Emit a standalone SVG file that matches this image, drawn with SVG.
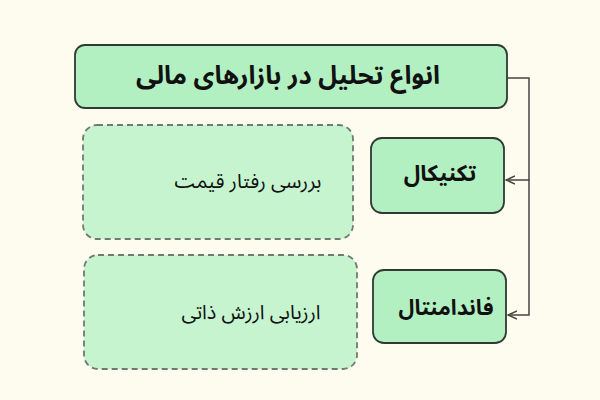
<svg xmlns="http://www.w3.org/2000/svg" width="600" height="400" viewBox="0 0 600 400">
<style>
.main{fill:#b2f0c2;stroke:#2f3a33;stroke-width:1.8}
.sub{fill:#c6f4cf;stroke:#707a72;stroke-width:1.8;stroke-dasharray:6 4}
.t{font-family:"Noto Sans Arabic","Noto Naskh Arabic","DejaVu Sans",sans-serif;fill:#111;text-anchor:middle;dominant-baseline:central;direction:rtl}
.b{font-weight:bold}
.conn{fill:none;stroke:#444;stroke-width:1.5}
</style>
<defs>
<marker id="ah" viewBox="0 0 10 10" refX="9" refY="5" markerWidth="10" markerHeight="10" markerUnits="userSpaceOnUse" orient="auto">
<path d="M0,1 L9,5 L0,9" fill="none" stroke="#444" stroke-width="1.4"/>
</marker>
</defs>
<rect width="600" height="400" fill="#fdfcee"/>
<g id="connectors">
<path class="conn" d="M507,78 H529 V180 H506" marker-end="url(#ah)"/>
<path class="conn" d="M529,180 V315 H508" marker-end="url(#ah)"/>
</g>
<g id="title">
<rect class="main" x="75" y="45" width="432" height="63" rx="10"/>
<text class="t b" x="288" y="76" font-size="25.5">انواع تحلیل در بازارهای مالی</text>
</g>
<g id="technical">
<rect class="main" x="371" y="138" width="133" height="75" rx="11"/>
<text class="t b" x="440" y="174" font-size="22.5">تکنیکال</text>
</g>
<g id="fundamental">
<rect class="main" x="373" y="270" width="133" height="73" rx="11"/>
<text class="t b" x="446" y="308" font-size="21.5">فاندامنتال</text>
</g>
<g id="technical-desc">
<rect class="sub" x="83" y="125" width="270" height="114" rx="14"/>
<text class="t" x="248" y="182" font-size="20">بررسی رفتار قیمت</text>
</g>
<g id="fundamental-desc">
<rect class="sub" x="84" y="255" width="273" height="114" rx="14"/>
<text class="t" x="251" y="313" font-size="20">ارزیابی ارزش ذاتی</text>
</g>
</svg>
